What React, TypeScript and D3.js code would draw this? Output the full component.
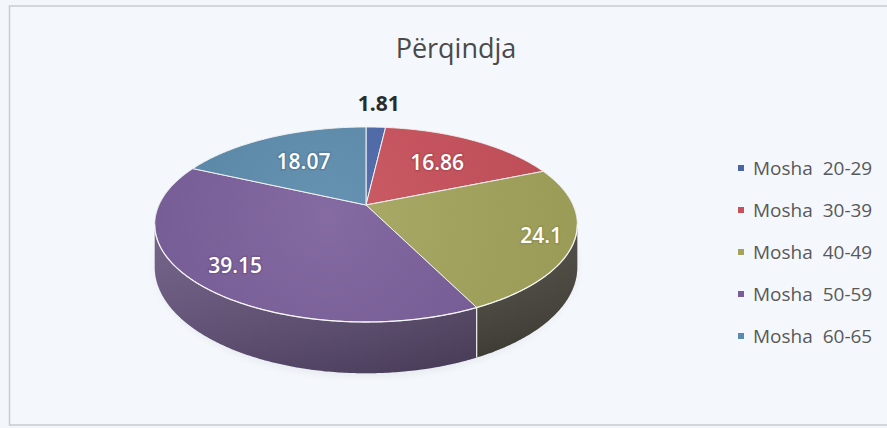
import React from "react";
import * as d3 from "d3";

const title = "Përqindja";
const categories = ["Mosha  20-29", "Mosha  30-39", "Mosha  40-49", "Mosha  50-59", "Mosha  60-65"];
const values = [1.81, 16.86, 24.1, 39.15, 18.07];
const valueLabels = ["1.81", "16.86", "24.1", "39.15", "18.07"];

const topColors = ["#4a66a8", "#c8505a", "#a3a55c", "#7a5e9a", "#5a8aac"];
const sideColors = ["#3a4a78", "#8a3a40", "#5e5a4e", "#68567f", "#3e6680"];
const labelRadius = [1.39, 0.63, 0.85, 0.8, 0.62];

const W = 887;
const H = 428;
const cx = 366;
const cy = 205;
const R = 207;
const Ry = 93.6;
const DEPTH = 41;
const PERSP = 0.2;

function proj(theta: number, f = 1, drop = 0): [number, number] {
  const u = Math.sin(theta) * f;
  const z = Math.cos(theta) * f;
  const s = 1 / (1 + PERSP * z);
  return [cx + R * u * s, cy - Ry * z * s + drop * s];
}

function rimPoints(a: number, b: number, drop = 0): [number, number][] {
  const n = Math.max(2, Math.ceil((b - a) / 0.01));
  const pts: [number, number][] = [];
  for (let i = 0; i <= n; i++) pts.push(proj(a + ((b - a) * i) / n, 1, drop));
  return pts;
}

export default function App() {
  const pie = d3.pie<number>().sort(null).value((d) => d).startAngle(0).endAngle(2 * Math.PI);
  const arcs = pie(values);
  const visA = Math.acos(-PERSP);
  const visB = 2 * Math.PI - visA;
  const line = d3.line();

  const sides = arcs
    .map((a, i) => {
      const lo = Math.max(a.startAngle, visA);
      const hi = Math.min(a.endAngle, visB);
      if (hi <= lo) return null;
      const top = rimPoints(lo, hi, 0);
      const bot = rimPoints(lo, hi, DEPTH).reverse();
      return { i, d: line([...top, ...bot])! + "Z", lo, hi };
    })
    .filter(Boolean) as { i: number; d: string; lo: number; hi: number }[];

  const tops = arcs.map((a, i) => {
    const pts = rimPoints(a.startAngle, a.endAngle, 0);
    return { i, d: line([[cx, cy], ...pts])! + "Z" };
  });

  const legendX = 741;
  const legendY0 = 168;
  const legendStep = 42;

  return (
    <div style={{ position: "absolute", left: 0, top: 0 }}>
      <svg width={W} height={H} style={{ display: "block", fontFamily: "'Open Sans', 'DejaVu Sans', sans-serif" }}>
        <defs>
          <linearGradient id="shadeX" gradientUnits="userSpaceOnUse" x1={cx - R} x2={cx + R} y1={0} y2={0}>
            <stop offset="0" stopColor="#000" stopOpacity={0} />
            <stop offset="0.5" stopOpacity={0.12} stopColor="#000" />
            <stop offset="1" stopColor="#000" stopOpacity={0.3} />
          </linearGradient>
          <linearGradient id="shadeY" x1="0" x2="0" y1="0" y2="1">
            <stop offset="0" stopColor="#fff" stopOpacity={0.08} />
            <stop offset="1" stopColor="#000" stopOpacity={0.15} />
          </linearGradient>
          <radialGradient id="topLight" gradientUnits="userSpaceOnUse" cx={cx - 40} cy={cy + 10} r={260}>
            <stop offset="0" stopColor="#fff" stopOpacity={0.08} />
            <stop offset="1" stopColor="#000" stopOpacity={0.06} />
          </radialGradient>
          <filter id="blur4" x="-20%" y="-20%" width="140%" height="140%">
            <feGaussianBlur stdDeviation="4" />
          </filter>
        </defs>
        <rect x={0} y={0} width={W} height={H} fill="#f3f6fa" />
        <rect x={9.5} y={6} width={W + 10} height={419} fill="#f4f7fb" stroke="#c8ccd2" strokeWidth={1.5} />

        <text x={456} y={58} textAnchor="middle" fontSize={27} fill="#4a4a4a">
          {title}
        </text>

        {/* soft shadow below pie */}
        <ellipse cx={cx} cy={cy + 60} rx={R + 4} ry={Ry + 18} fill="#000" opacity={0.06} filter="url(#blur4)" />

        {sides.map((s) => (
          <g key={"side" + s.i}>
            <path d={s.d} fill={sideColors[s.i]} />
            <path d={s.d} fill="url(#shadeX)" />
            <path d={s.d} fill="url(#shadeY)" />
          </g>
        ))}
        {sides.slice(1).map((s) => {
          const [x1, y1] = proj(s.lo, 1, 0);
          const [x2, y2] = proj(s.lo, 1, DEPTH);
          return <line key={"sl" + s.i} x1={x1} y1={y1} x2={x2} y2={y2} stroke="#f2f2f2" strokeWidth={1.2} />;
        })}

        {tops.map((t) => (
          <g key={"top" + t.i}>
            <path d={t.d} fill={topColors[t.i]} stroke="#f4f4f4" strokeWidth={1} strokeLinejoin="round" />
            <path d={t.d} fill="url(#topLight)" />
          </g>
        ))}
        <path d={line(rimPoints(visA, visB, 0))!} fill="none" stroke="#ffffff" strokeOpacity={0.75} strokeWidth={1.3} />

        {arcs.map((a, i) => {
          const mid = (a.startAngle + a.endAngle) / 2;
          const [x, y] = proj(mid, labelRadius[i], 0);
          const outside = labelRadius[i] > 1;
          return (
            <text
              key={"lbl" + i}
              x={x}
              y={y}
              textAnchor="middle"
              dominantBaseline="central"
              fontSize={21}
              fontWeight={outside ? 700 : 600}
              fill={outside ? "#2b2b2b" : "#ffffff"}
              stroke={outside ? "none" : d3.color(topColors[i])!.darker(0.5).formatHex()}
              strokeWidth={outside ? 0 : 3}
              strokeOpacity={0.5}
              paintOrder="stroke"
            >
              {valueLabels[i]}
            </text>
          );
        })}

        {categories.map((c, i) => (
          <g key={"lg" + i} transform={`translate(${legendX},${legendY0 + i * legendStep})`}>
            <rect x={-3} y={-3} width={6} height={6} fill={topColors[i]} />
            <text x={12} y={0} dominantBaseline="central" fontSize={19} fill="#595959" style={{ whiteSpace: "pre" }}>
              {c}
            </text>
          </g>
        ))}
      </svg>
    </div>
  );
}
